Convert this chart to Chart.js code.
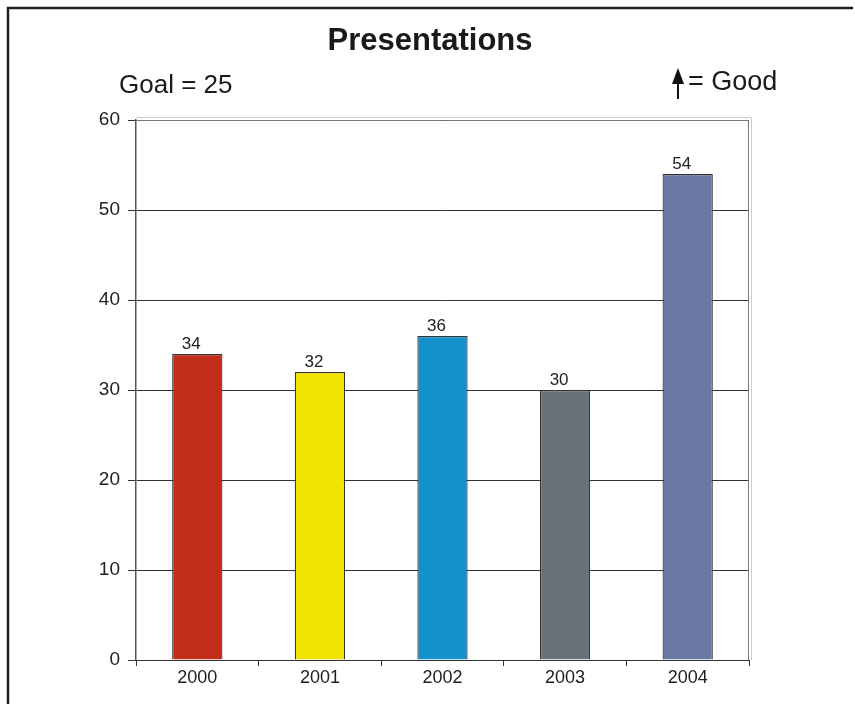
<!DOCTYPE html>
<html>
<head>
<meta charset="utf-8">
<script src="https://cdn.jsdelivr.net/npm/chart.js@4"></script>
<style>
  html, body { margin: 0; padding: 0; background: #fff; }
  #wrap { width: 855px; height: 704px; position: relative; }
</style>
</head>
<body>
<div id="wrap"><canvas id="c" width="855" height="704"></canvas></div>
<script>
// data
const years = ['2000', '2001', '2002', '2003', '2004'];
const presentations = [34, 32, 36, 30, 54];
const barColors = ['#c22e1a', '#f2e400', '#1490ca', '#677278', '#6979a3'];
const yTicks = [0, 10, 20, 30, 40, 50, 60];

const FONT = '"Liberation Sans", Arial, sans-serif';

// frame, headings, plot border and value labels
const decor = {
  id: 'decor',
  beforeDraw(chart) {
    const ctx = chart.ctx;
    ctx.save();
    ctx.fillStyle = '#fff';
    ctx.fillRect(0, 0, chart.width, chart.height);
    ctx.restore();
  },
  afterDatasetsDraw(chart) {
    const ctx = chart.ctx;
    const a = chart.chartArea;
    ctx.save();

    // outer frame
    ctx.strokeStyle = '#222';
    ctx.lineWidth = 2.5;
    ctx.beginPath();
    ctx.moveTo(8, 720);
    ctx.lineTo(8, 8);
    ctx.lineTo(853, 8);
    ctx.stroke();

    // plot border top/right (grey double)
    ctx.lineWidth = 1;
    ctx.strokeStyle = '#c8ccd4';
    ctx.beginPath();
    ctx.moveTo(a.left, a.top - 2.5);
    ctx.lineTo(a.right + 2.5, a.top - 2.5);
    ctx.lineTo(a.right + 2.5, a.bottom);
    ctx.stroke();
    ctx.strokeStyle = '#777';
    ctx.beginPath();
    ctx.moveTo(a.left, a.top + 0.5);
    ctx.lineTo(a.right - 0.5, a.top + 0.5);
    ctx.lineTo(a.right - 0.5, a.bottom);
    ctx.stroke();

    // title and notes
    ctx.fillStyle = '#1a1a1a';
    ctx.textBaseline = 'middle';
    ctx.textAlign = 'center';
    ctx.font = 'bold 31px ' + FONT;
    ctx.fillText('Presentations', 430, 41);
    ctx.textAlign = 'left';
    ctx.font = '26px ' + FONT;
    ctx.fillText('Goal = 25', 119, 86);
    ctx.font = '27px ' + FONT;
    ctx.fillText('= Good', 688, 83);

    // up arrow
    ctx.strokeStyle = '#111';
    ctx.lineWidth = 2;
    ctx.beginPath();
    ctx.moveTo(678, 80);
    ctx.lineTo(678, 99);
    ctx.stroke();
    ctx.fillStyle = '#111';
    ctx.beginPath();
    ctx.moveTo(678, 68);
    ctx.lineTo(684, 84);
    ctx.lineTo(672, 84);
    ctx.closePath();
    ctx.fill();

    // value labels
    ctx.fillStyle = '#222';
    ctx.font = '17px ' + FONT;
    ctx.textAlign = 'center';
    ctx.textBaseline = 'bottom';
    chart.getDatasetMeta(0).data.forEach((bar, i) => {
      ctx.fillText(String(presentations[i]), bar.x - 6, bar.y - 1);
    });
    ctx.restore();
  }
};

new Chart(document.getElementById('c'), {
  type: 'bar',
  data: {
    labels: years,
    datasets: [{
      data: presentations,
      backgroundColor: barColors,
      borderColor: '#333',
      borderWidth: 1.2,
      categoryPercentage: 1,
      barPercentage: 0.41
    }]
  },
  options: {
    responsive: false,
    animation: false,
    devicePixelRatio: 1,
    layout: { padding: { left: 0, right: 106, top: 120, bottom: 0 } },
    plugins: {
      legend: { display: false },
      title: { display: false },
      tooltip: { enabled: false }
    },
    scales: {
      x: {
        afterFit(scale) { scale.height = 44; },
        grid: {
          offset: true,
          drawOnChartArea: false,
          drawTicks: true,
          tickLength: 6,
          color: '#333',
          lineWidth: 1
        },
        border: { color: '#333', width: 1 },
        ticks: { color: '#222', font: { family: FONT, size: 18 }, padding: 1 }
      },
      y: {
        min: 0,
        max: 60,
        afterFit(scale) { scale.width = 136; },
        afterBuildTicks(scale) { scale.ticks = yTicks.map(v => ({ value: v })); },
        grid: {
          color: '#333',
          lineWidth: 1,
          tickLength: 8
        },
        border: { color: '#555', width: 1.5 },
        ticks: { color: '#222', font: { family: FONT, size: 19 }, padding: 8 }
      }
    }
  },
  plugins: [decor]
});
</script>
</body>
</html>
